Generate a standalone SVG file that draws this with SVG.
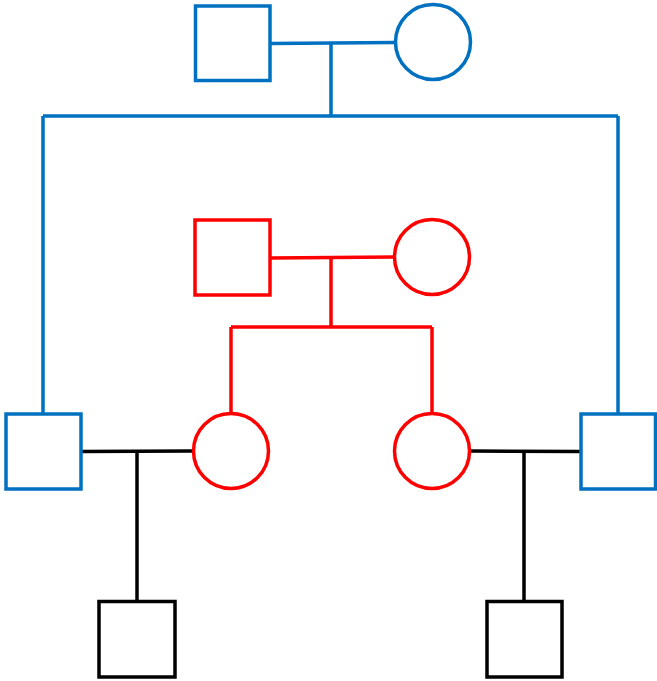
<svg xmlns="http://www.w3.org/2000/svg" width="657" height="681" viewBox="0 0 657 681">
  <style>
    .blue { fill: #ffffff; stroke: #0070C0; stroke-width: 3.5; }
    .red { fill: #ffffff; stroke: #FF0000; stroke-width: 3.5; }
    .black { fill: #ffffff; stroke: #000000; stroke-width: 3.5; }
    .ln-blue { fill: none; stroke: #0070C0; stroke-width: 3.5; }
    .ln-red { fill: none; stroke: #FF0000; stroke-width: 3.5; }
    .ln-black { fill: none; stroke: #000000; stroke-width: 3.5; }
  </style>
  <rect width="657" height="681" fill="#ffffff"/>

  <!-- connectors -->
  <g id="connectors">
    <!-- grandparents couple line and descent -->
    <path class="ln-blue" d="M270 43.5 L395 42.5"/>
    <path class="ln-blue" d="M331 43 L331 116"/>
    <path class="ln-blue" d="M43 116 L618 116"/>
    <path class="ln-blue" d="M43 116 L43 414"/>
    <path class="ln-blue" d="M618 116 L618 414"/>
    <!-- red couple line and descent -->
    <path class="ln-red" d="M270 258 L394 257"/>
    <path class="ln-red" d="M331 258 L331 327"/>
    <path class="ln-red" d="M231 327 L432 327"/>
    <path class="ln-red" d="M231 327 L231 413"/>
    <path class="ln-red" d="M432 327 L432 413"/>
    <!-- bottom couples and children -->
    <path class="ln-black" d="M81 451.5 L193 451"/>
    <path class="ln-black" d="M137 451 L137 601"/>
    <path class="ln-black" d="M470 451 L581 451.5"/>
    <path class="ln-black" d="M524 451 L524 601"/>
  </g>

  <!-- nodes -->
  <g id="gp-male"><rect class="blue" x="195.5" y="6" width="74.5" height="74.5"/></g>
  <g id="gp-female"><circle class="blue" cx="433" cy="42" r="37.5"/></g>

  <g id="p-male"><rect class="red" x="195" y="220" width="75" height="75"/></g>
  <g id="p-female"><circle class="red" cx="432" cy="257" r="37.5"/></g>

  <g id="left-male"><rect class="blue" x="6" y="414" width="75" height="75"/></g>
  <g id="left-female"><circle class="red" cx="231" cy="451" r="37.5"/></g>
  <g id="right-female"><circle class="red" cx="432" cy="451" r="37.5"/></g>
  <g id="right-male"><rect class="blue" x="581" y="414" width="74.5" height="75"/></g>

  <g id="left-child"><rect class="black" x="99" y="601.5" width="76" height="75.5"/></g>
  <g id="right-child"><rect class="black" x="487" y="601.5" width="75" height="75.5"/></g>
</svg>
